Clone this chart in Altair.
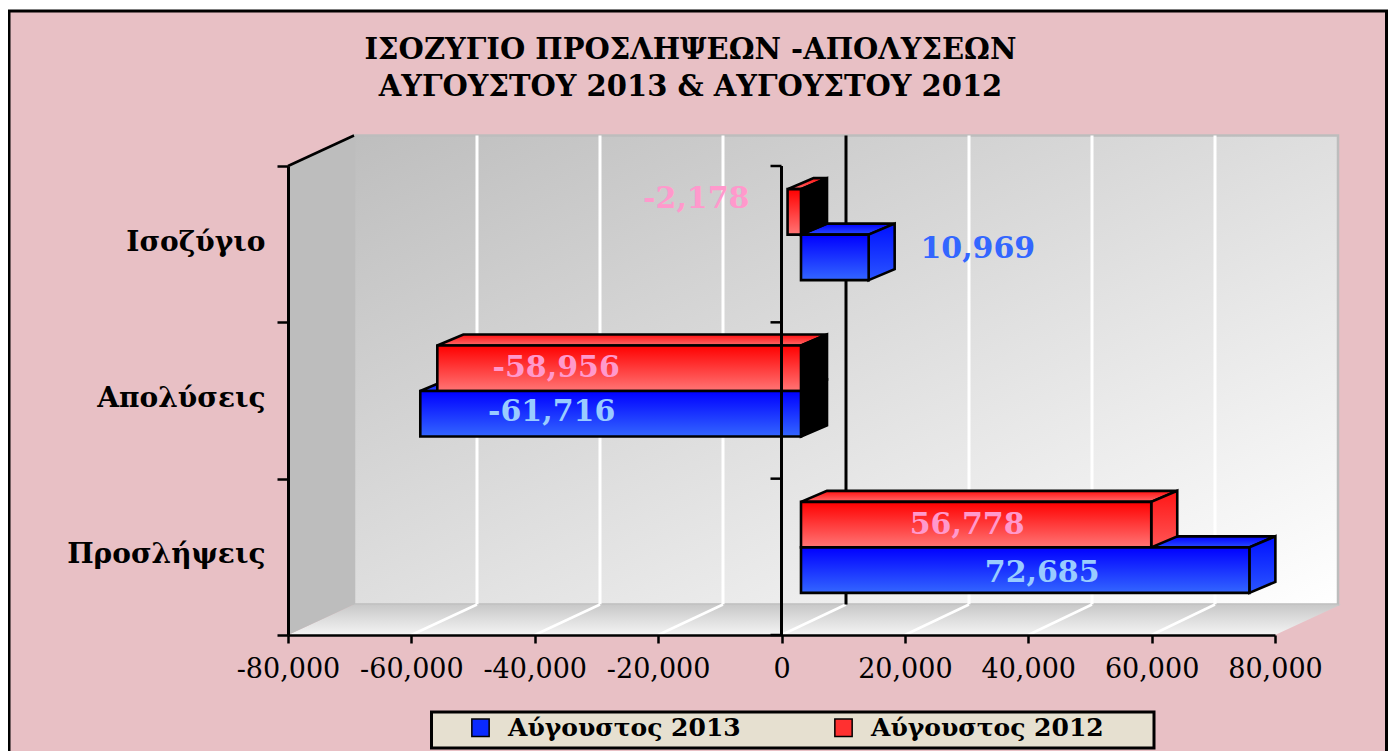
import altair as alt
import pandas as pd

categories = ["Προσλήψεις", "Απολύσεις", "Ισοζύγιο"]
values_2013 = [72685, -61716, 10969]
values_2012 = [56778, -58956, -2178]
series_names = ["Αύγουστος 2013", "Αύγουστος 2012"]
title_lines = ["ΙΣΟΖΥΓΙΟ ΠΡΟΣΛΗΨΕΩΝ -ΑΠΟΛΥΣΕΩΝ", "ΑΥΓΟΥΣΤΟΥ 2013 & ΑΥΓΟΥΣΤΟΥ 2012"]
x_ticks = [-80000, -60000, -40000, -20000, 0, 20000, 40000, 60000, 80000]

# ---- layout / style (pixels converted into data units below)
W, H = 987, 469
PX = W / 160000
PY = H / 3
SERIF = "DejaVu Serif"
PINK = "#E8C0C5"


def ux(px):
    return px / PX


def uy(px):
    return px / PY


def back_x(v):
    return v * 0.99696 + ux(64.5)


BACK_Y = uy(30.5)
BAR_OFF = ux(19.5)
BAR_H = uy(45.5)
BAR_LIFT = uy(9.5)
DEPTH_X = ux(26)
DEPTH_Y = uy(11)

lab = "datum.value==0.5?'%s':datum.value==1.5?'%s':datum.value==2.5?'%s':''" % tuple(categories)
X_AXIS = alt.Axis(values=x_ticks, labelExpr="replace(format(datum.value, ','), '−', '-')", title=None, grid=False,
                  zindex=1, labelFont=SERIF, labelFontSize=27, labelColor="black", labelPadding=13, tickSize=8,
                  tickWidth=2.5, tickColor="black", domainColor="black", domainWidth=2.5, labelOverlap=False,
                  labelFlush=False)
Y_AXIS = alt.Axis(values=[0, 0.5, 1, 1.5, 2, 2.5, 3], labelExpr=lab, title=None, grid=False, zindex=1,
                  labelFont=SERIF, labelFontSize=28, labelFontWeight="bold", labelColor="black",
                  labelPadding=12, tickSize=11, tickWidth=2.5, tickColor="black",
                  tickOpacity={"condition": {"test": "datum.value % 1 != 0", "value": 0}, "value": 1},
                  domainColor="black", domainWidth=3, labelOffset=-2, labelOverlap=False, labelLimit=400,
                  labelFlush=False)
SX = alt.Scale(domain=[-80000, 80000], nice=False, zero=False)
SY = alt.Scale(domain=[0, 3], nice=False, zero=False)


def X(f="x"):
    return alt.X(f"{f}:Q", scale=SX, axis=X_AXIS)


def Y(f="y"):
    return alt.Y(f"{f}:Q", scale=SY, axis=Y_AXIS, stack=False)


def grad(c0, c1, diag=False):
    return alt.LinearGradient(gradient="linear", x1=0, y1=0, x2=1 if diag else 0, y2=1,
                              stops=[alt.GradientStop(offset=0, color=c0), alt.GradientStop(offset=1, color=c1)])


def rect(x0, x1, y0, y1, **mark):
    d = pd.DataFrame({"x": [x0], "x1": [x1], "y": [y0], "y1": [y1]})
    return alt.Chart(d).mark_rect(**mark).encode(x=X(), x2="x1:Q", y=Y(), y2="y1:Q")


def line(x0, y0, x1, y1, color, width):
    d = pd.DataFrame({"x": [x0, x1], "y": [y0, y1]})
    return alt.Chart(d).mark_line(color=color, strokeWidth=width, clip=False).encode(
        x=X(), y=Y(), order=alt.Order("x:Q"))


def slant_top(x0, x1, y, ddx, ddy, **mark):
    """Parallelogram receding from the horizontal edge x0..x1 at height y."""
    xs = sorted({x0, x1, x0 + ddx, x1 + ddx})
    lo = [y + ddy * min(1, max(0, (v - x1) / ddx)) for v in xs]
    hi = [y + ddy * min(1, max(0, (v - x0) / ddx)) for v in xs]
    d = pd.DataFrame({"x": xs, "y": lo, "y1": hi})
    return alt.Chart(d).mark_area(orient="vertical", **mark).encode(x=X(), y=Y(), y2="y1:Q")


def slant_side(x, y0, y1, ddx, ddy, **mark):
    """Parallelogram receding from the vertical edge y0..y1 at position x."""
    d = pd.DataFrame({"x": [x, x + ddx], "y": [y0, y0 + ddy], "y1": [y1, y1 + ddy]})
    return alt.Chart(d).mark_area(orient="vertical", **mark).encode(x=X(), y=Y(), y2="y1:Q")


layers = []

# page background + frame
frame_df = pd.DataFrame({"a": [0]})
layers.append(alt.Chart(frame_df).mark_rect(fill=PINK, stroke="black", strokeWidth=3).encode(
    x=alt.value(-279), x2=alt.value(1098.5), y=alt.value(-155), y2=alt.value(640)))

# back wall, floor, left wall
bl, br = back_x(-80000), back_x(80000)
layers.append(rect(bl, br, BACK_Y, 3 + BACK_Y, fill=grad("#BEBEBE", "#FFFFFF", True), stroke="#BDBDBD", strokeWidth=2.5))
for v in x_ticks[1:-1]:
    if v != 0:
        layers.append(line(back_x(v), BACK_Y, back_x(v), 3 + BACK_Y, "white", 3))
layers.append(slant_top(-80000, 80000, 0, bl + 80000, BACK_Y, fill=grad("#C8C8C8", "#F4F4F4")))
layers.append(slant_side(-80000, 0, 3, bl + 80000, BACK_Y, fill="#BDBDBD"))
for v in x_ticks[1:-1]:
    layers.append(line(v, 0, back_x(v), BACK_Y, "white", 2.5))
layers.append(line(back_x(0), BACK_Y, back_x(0), 3 + BACK_Y, "black", 3))
layers.append(line(-80000, 3, bl, 3 + BACK_Y, "black", 2.5))

# 3-D bars
STROKE = dict(stroke="black", strokeWidth=2.6)
styles = {
    "2012": dict(front=grad("#FF0000", "#FF7575"), top=grad("#FF1010", "#FF6A6A"), side=grad("#FF1515", "#FF5555")),
    "2013": dict(front=grad("#0000FF", "#3366FF"), top=grad("#0000FF", "#2A4CFF"), side=grad("#0010FF", "#2A55FF")),
}


def bar_parts(key, v, y0):
    x0, x1 = min(0, v) + BAR_OFF, max(0, v) + BAR_OFF
    y1 = y0 + BAR_H
    s = styles[key]
    back = [slant_top(x0, x1, y1, DEPTH_X, DEPTH_Y, fill=s["top"], **STROKE),
            slant_side(x1, y0, y1, DEPTH_X, DEPTH_Y, fill="black" if v < 0 else s["side"], **STROKE)]
    front = rect(x0, x1, y0, y1, fill=s["front"], **STROKE)
    return back, front, (x0 + x1) / 2, (y0 + y1) / 2


labels = []
for i in [2, 1, 0]:
    centre = i + 0.5 + BAR_LIFT
    b13, f13, cx13, cy13 = bar_parts("2013", values_2013[i], centre - BAR_H)
    b12, f12, cx12, cy12 = bar_parts("2012", values_2012[i], centre)
    # blue's receding faces sit behind the red bar; blue's front face is last
    layers += b13 + b12 + [f12, f13]
    labels.append(("2012", i, values_2012[i], cx12, cy12))
    labels.append(("2013", i, values_2013[i], cx13, cy13))

# front zero axis with its ticks
layers.append(line(0, 0, 0, 3, "black", 3))
for t in range(4):
    layers.append(line(-ux(11), t, 0, t, "black", 2.5))

# value labels (nudged off the bar centre as in the source)
nudges = {("2013", 0): (17, 3), ("2012", 0): (-9, 0), ("2013", 1): (-59, -2), ("2012", 1): (-63, 0),
          ("2013", 2): (143, -8), ("2012", 2): (-98, -13)}
label_colors = {("2013", 0): "#99CCFF", ("2012", 0): "#FF99CC", ("2013", 1): "#99CCFF", ("2012", 1): "#FF99CC",
                ("2013", 2): "#3366FF", ("2012", 2): "#FF99CC"}
for key, i, v, cx, cy in labels:
    d = pd.DataFrame({"x": [cx], "y": [cy], "t": [f"{v:,}"]})
    nx, ny = nudges[(key, i)]
    layers.append(alt.Chart(d).mark_text(font=SERIF, fontSize=30, fontWeight="bold", dx=nx, dy=ny,
                                         color=label_colors[(key, i)]).encode(
        x=X(), y=Y(), text="t:N"))

# legend box + legend
layers.append(alt.Chart(frame_df).mark_rect(fill="#E6E0D0", stroke="black", strokeWidth=3).encode(
    x=alt.value(143.5), x2=alt.value(866), y=alt.value(546), y2=alt.value(582)))
leg_df = pd.DataFrame({"series": series_names})
layers.append(alt.Chart(leg_df).mark_square(opacity=0).encode(
    x=alt.value(0), y=alt.value(0),
    color=alt.Color("series:N", scale=alt.Scale(domain=series_names, range=["#0A2AFF", "#FF3030"]),
                    legend=alt.Legend(orient="none", legendX=144, legendY=541, direction="horizontal", title=None,
                                      padding=8, symbolType="square", symbolSize=300, symbolStrokeColor="black",
                                      symbolStrokeWidth=1.5, symbolOpacity=1, labelFont=SERIF, labelFontSize=25,
                                      labelFontWeight="bold", labelColor="black", labelLimit=400,
                                      columnPadding=62, labelOffset=15, symbolOffset=28))))

chart = alt.layer(*layers).properties(
    width=W, height=H,
    padding={"left": 280, "top": 158, "right": 113, "bottom": 116},
    autosize=alt.AutoSizeParams(type="none"),
    background="white",
    title=alt.TitleParams(text=title_lines, font=SERIF, fontSize=29, fontWeight="bold", color="black",
                          anchor="middle", dx=-91, offset=-92, lineHeight=37),
).configure_view(stroke=None)

chart.save("out.html", embed_options={"renderer": "svg", "actions": False})
